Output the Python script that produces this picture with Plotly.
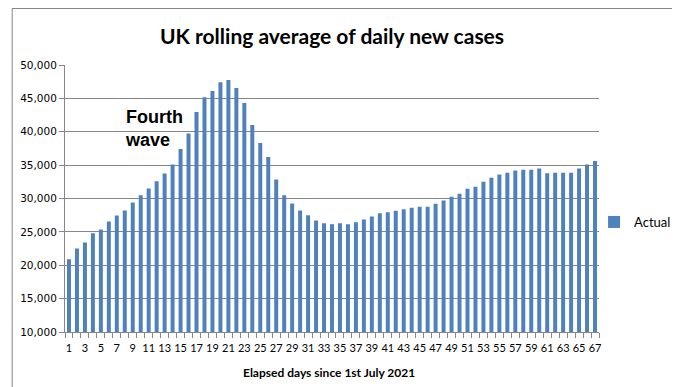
import plotly.graph_objects as go

days = list(range(1, 68))
actual = [
    20900, 22500, 23400, 24800, 25350, 26550, 27450, 28200, 29400, 30500,
    31500, 32600, 33750, 35100, 37400, 39750, 42950, 45150, 46100, 47400,
    47750, 46550, 44300, 41000, 38300, 36200, 32850, 30500, 29250, 28200,
    27500, 26700, 26300, 26150, 26300, 26150, 26450, 26850, 27300, 27800,
    27950, 28150, 28400, 28600, 28750, 28750, 29200, 29700, 30250, 30700,
    31450, 31750, 32500, 33100, 33600, 33850, 34200, 34300, 34300, 34500,
    33800, 33850, 33850, 33850, 34500, 35100, 35600,
]
x_tick_vals = list(range(1, 68, 2))
x_tick_text = [str(v) for v in x_tick_vals]
y_tick_vals = list(range(10000, 50001, 5000))

title_text = "UK rolling average of daily new cases"
x_title = "Elapsed days since 1st July 2021"
series_name = "Actual"
note_text = "Fourth<br>wave"

W, H = 680, 387
L, R, T, B = 54, 595, 57, 324
pw, ph = R - L, B - T

def px(xp):
    return (xp - L) / pw

def py(yp):
    return (B - yp) / ph

grid = "#878787"
bar_color = "#4F81BD"

fig = go.Figure()
fig.add_trace(go.Bar(
    x=days, y=actual, name=series_name, marker_color=bar_color,
    marker_line_width=0, width=0.5, showlegend=True,
))

fig.update_layout(
    width=W, height=H,
    margin=dict(l=L, r=W - R, t=T, b=H - B, pad=0),
    paper_bgcolor="white", plot_bgcolor="white",
    font=dict(family="DejaVu Sans", color="black"),
    title=dict(text="<b>" + title_text + "</b>", x=0.5, xref="paper", xanchor="center",
               y=1 - 29 / H, yanchor="middle",
               font=dict(family="Lato", size=21, color="black")),
    showlegend=True,
    legend=dict(x=px(590), y=py(214), xanchor="left", yanchor="middle",
                font=dict(family="Lato", size=13, color="black"),
                bgcolor="rgba(0,0,0,0)", borderwidth=0),
    bargap=0.5,
)

fig.update_xaxes(
    range=[0.5, 67.5], tickmode="array", tickvals=x_tick_vals, ticktext=x_tick_text,
    ticks="", tickangle=0, showgrid=False, showline=True, linecolor=grid, linewidth=1,
    tickfont=dict(family="Lato", size=11, color="black"),
    minor=dict(tickmode="linear", tick0=0.5, dtick=1, ticks="outside", ticklen=5,
               tickcolor=grid, tickwidth=1, showgrid=False),
    ticklabelstandoff=6,
    zeroline=False, fixedrange=True,
)
fig.update_yaxes(
    range=[10000, 50000], tickmode="array", tickvals=y_tick_vals, tickformat=",d",
    showgrid=True, gridcolor=grid, gridwidth=1, showline=True, linecolor=grid,
    linewidth=1, ticks="outside", ticklen=5, tickcolor=grid,
    tickfont=dict(family="DejaVu Sans", size=10.5, color="black"),
    zeroline=False, fixedrange=True,
)

fig.add_annotation(text="<b>" + x_title + "</b>", xref="paper", yref="paper",
                   x=px(321), y=py(364), xanchor="center", yanchor="middle",
                   showarrow=False, font=dict(family="Lato", size=12, color="black"))
fig.add_annotation(text="<b>" + note_text + "</b>", xref="paper", yref="paper",
                   x=px(113), y=py(120), xanchor="left", yanchor="middle", align="left",
                   showarrow=False, font=dict(family="Liberation Sans", size=18, color="black"))

fig.add_shape(type="rect", xref="paper", yref="paper",
              x0=px(0.5), x1=px(679.5), y0=py(386.5), y1=py(0.5),
              line=dict(color="#868686", width=1), fillcolor="rgba(0,0,0,0)", layer="below")

fig.write_html("out.html")
